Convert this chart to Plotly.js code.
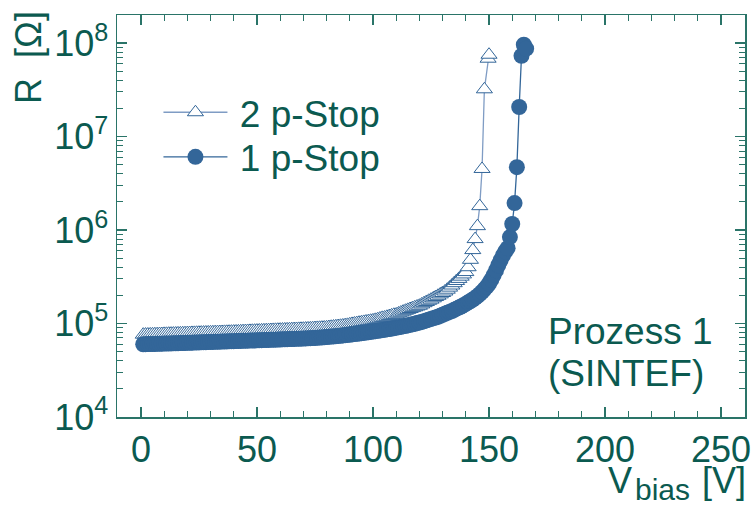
<!DOCTYPE html>
<html>
<head>
<meta charset="utf-8">
<script src="https://cdn.plot.ly/plotly-3.0.1.min.js"></script>
<style>html,body{margin:0;padding:0;background:#fff;}#chart{width:754px;height:506px;}</style>
</head>
<body>
<div id="chart"></div>
<script>
// ---- data ----
const seriesNames = ['2 p-Stop', '1 p-Stop'];

const V_2pStop = [1,2,3,4,5,6,7,8,9,10,11,12,13,14,15,16,17,18,19,20,21,22,23,24,25,26,27,28,29,30,
31,32,33,34,35,36,37,38,39,40,41,42,43,44,45,46,47,48,49,50,51,52,53,54,55,56,57,58,59,60,
61,62,63,64,65,66,67,68,69,70,71,72,73,74,75,76,77,78,79,80,81,82,83,84,85,86,87,88,89,90,
91,92,93,94,95,96,97,98,99,100,101,102,103,104,105,106,107,108,109,110,111,112,113,114,115,116,117,118,119,120,
121,122,123,124,125,126,127,128,129,130,131,132,133,134,135,136,137,138,139,140,141,142,143,144,145,146,147,148,149.6,150];

const R_2pStop_kOhm = [76.0,76.2,76.3,76.5,76.6,76.8,76.9,77.1,77.2,77.5,
77.6,77.8,77.9,78.1,78.2,78.4,78.5,78.7,78.8,79.0,
79.1,79.3,79.4,79.6,79.7,79.9,80.0,80.2,80.3,80.5,
80.6,80.8,80.9,81.1,81.2,81.4,81.5,81.7,81.8,82.0,
82.2,82.4,82.6,82.8,83.0,83.2,83.4,83.6,83.8,84.0,
84.2,84.4,84.6,84.8,85.0,85.2,85.4,85.6,85.8,86.0,
86.2,86.4,86.6,86.8,87.0,87.2,87.4,87.6,87.8,88.0,
88.3,88.6,88.8,89.1,89.4,89.7,90.0,90.3,90.6,91.0,
91.6,92.2,92.8,93.4,94.0,94.6,95.2,96.0,96.8,98.0,
99,100,101,102,103,104,105,106,107,108,
109.5,111,113,115,116,118,120,122,124,125,
128,131,134,137,140,143,146,149,152,155,
160,165,170,175,180,186,192,198,205,212,
220,230,242,255,270,285,300,317,335,355,
400,480,610,800,1100,1800,4500,32000,68000,75000];

const V_1pStop = [1,2,3,4,5,6,7,8,9,10,11,12,13,14,15,16,17,18,19,20,21,22,23,24,25,26,27,28,29,30,
31,32,33,34,35,36,37,38,39,40,41,42,43,44,45,46,47,48,49,50,51,52,53,54,55,56,57,58,59,60,
61,62,63,64,65,66,67,68,69,70,71,72,73,74,75,76,77,78,79,80,81,82,83,84,85,86,87,88,89,90,
91,92,93,94,95,96,97,98,99,100,101,102,103,104,105,106,107,108,109,110,111,112,113,114,115,116,117,118,119,120,
121,122,123,124,125,126,127,128,129,130,131,132,133,134,135,136,137,138,139,140,141,142,143,144,145,146,147,148,149,150,
151,152,153,154,155,156,157,158,159,160,161,162,163,164,165,166];

const R_1pStop_kOhm = [60.0,60.1,60.2,60.3,60.4,60.5,60.6,60.7,60.8,61.0,
61.1,61.2,61.3,61.4,61.5,61.6,61.8,61.9,62.0,62.2,
62.3,62.4,62.6,62.7,62.8,63.0,63.1,63.2,63.4,63.5,
63.6,63.8,63.9,64.0,64.2,64.3,64.4,64.6,64.7,64.8,
65.0,65.1,65.2,65.4,65.5,65.6,65.8,65.9,66.0,66.2,
66.3,66.4,66.6,66.7,66.8,67.0,67.1,67.2,67.4,67.5,
67.7,67.8,68.0,68.1,68.3,68.4,68.6,68.8,68.9,69.1,
69.3,69.5,69.7,69.9,70.1,70.4,70.7,71.0,71.3,71.6,
72.0,72.4,72.8,73.2,73.6,74.0,74.5,75.0,75.5,76.0,
76.5,77.0,77.6,78.2,78.8,79.4,80.0,80.7,81.4,82.1,
82.8,83.5,84.2,85.0,85.8,86.6,87.4,88.2,89.2,90.2,
91.2,92.2,93.3,94.4,95.5,96.7,98.0,99.3,101,102.5,
104,106,108,110,112,114,116,118,121,124,
127,130,133,136,140,144,148,152,157,162,
168,174,180,188,196,206,218,232,248,268,
295,330,370,420,475,535,590,
640,840,1160,1940,4700,20700,73000,96000,87000];

const yTickVals = [1e4, 1e5, 1e6, 1e7, 1e8];
const yTickText = ['10<sup>4</sup>', '10<sup>5</sup>', '10<sup>6</sup>', '10<sup>7</sup>', '10<sup>8</sup>'];
const annoLines = ['Prozess 1', '(SINTEF)'];
const yTitle = 'R\u00a0\u00a0[\u03a9]';
const xTitleParts = ['V', 'bias', '[V]'];

// ---- styles ----
const TEAL = '#0b5a50';
const AX = '#2a7468';
const BLUE = '#336699';
const FONT = 'Liberation Sans, Arial, Helvetica, sans-serif';

const traces = [
  {
    x: V_2pStop, y: R_2pStop_kOhm.map(v => v * 1000), name: '\u2009' + seriesNames[0],
    type: 'scatter', mode: 'lines+markers', legend: 'legend',
    line: {color: '#7f9cc4', width: 1.3},
    marker: {symbol: 'triangle-up', size: 14, color: 'white', line: {color: BLUE, width: 1}}
  },
  {
    x: V_1pStop, y: R_1pStop_kOhm.map(v => v * 1000), name: '\u2009' + seriesNames[1],
    type: 'scatter', mode: 'lines+markers', legend: 'legend2',
    line: {color: BLUE, width: 1.3},
    marker: {symbol: 'circle', size: 16, color: BLUE, line: {width: 0}}
  }
];

const legendCommon = {xanchor: 'left', yanchor: 'middle', bgcolor: 'rgba(0,0,0,0)',
  font: {family: FONT, size: 37, color: TEAL}, itemwidth: 64, borderwidth: 0};

const layout = {
  width: 754, height: 506,
  margin: {l: 117, r: 9, t: 15, b: 89},
  paper_bgcolor: 'white', plot_bgcolor: 'white',
  font: {family: FONT, size: 36, color: TEAL},
  showlegend: true,
  legend: Object.assign({x: 0.066, y: 0.757}, legendCommon),
  legend2: Object.assign({x: 0.066, y: 0.646}, legendCommon),
  xaxis: {
    range: [-10.3, 260.3], tickmode: 'linear', tick0: 0, dtick: 50,
    ticks: 'inside', ticklen: 10, tickwidth: 1.2, tickcolor: AX,
    showline: true, linecolor: AX, linewidth: 1.5, mirror: 'ticks',
    showgrid: false, zeroline: false,
    tickfont: {family: FONT, size: 36, color: TEAL},
    minor: {dtick: 10, tick0: 0, ticks: 'inside', ticklen: 6, tickwidth: 1, tickcolor: AX, showgrid: false}
  },
  yaxis: {
    type: 'log', range: [4, 8.3], tickmode: 'array', tickvals: yTickVals, ticktext: yTickText,
    ticks: 'inside', ticklen: 10, tickwidth: 1.2, tickcolor: AX,
    showline: true, linecolor: AX, linewidth: 1.5, mirror: 'ticks',
    showgrid: false, zeroline: false,
    tickfont: {family: FONT, size: 36, color: TEAL},
    minor: {dtick: 'D1', ticks: 'inside', ticklen: 6, tickwidth: 1, tickcolor: AX, showgrid: false}
  },
  annotations: [
    {xref: 'paper', yref: 'paper', x: 0.683, y: 0.212, xanchor: 'left', yanchor: 'middle',
     text: annoLines[0], showarrow: false, font: {family: FONT, size: 37, color: TEAL}},
    {xref: 'paper', yref: 'paper', x: 0.683, y: 0.107, xanchor: 'left', yanchor: 'middle',
     text: annoLines[1], showarrow: false, font: {family: FONT, size: 37, color: TEAL}},
    {xref: 'paper', yref: 'paper', x: -0.142, y: 0.895, xanchor: 'center', yanchor: 'middle',
     textangle: -90, text: yTitle, showarrow: false, font: {family: FONT, size: 36, color: TEAL}},
    {xref: 'paper', yref: 'paper', x: 0.778, y: -0.159, xanchor: 'left', yanchor: 'middle',
     text: xTitleParts[0], showarrow: false, font: {family: FONT, size: 36, color: TEAL}},
    {xref: 'paper', yref: 'paper', x: 0.822, y: -0.181, xanchor: 'left', yanchor: 'middle',
     text: xTitleParts[1], showarrow: false, font: {family: FONT, size: 30, color: TEAL}},
    {xref: 'paper', yref: 'paper', x: 1.004, y: -0.159, xanchor: 'right', yanchor: 'middle',
     text: xTitleParts[2], showarrow: false, font: {family: FONT, size: 36, color: TEAL}}
  ]
};

Plotly.newPlot('chart', traces, layout, {displayModeBar: false, staticPlot: true});
</script>
</body>
</html>
